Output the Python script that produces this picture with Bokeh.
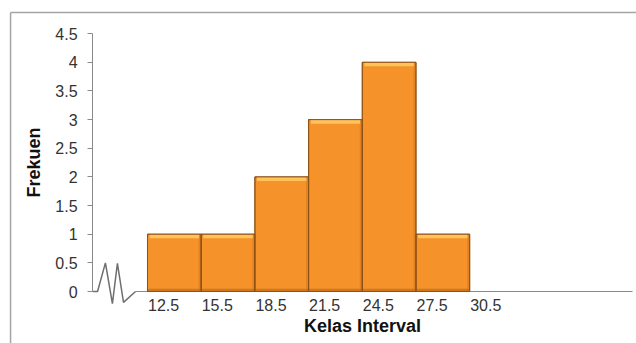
from bokeh.plotting import figure
from bokeh.models import ColumnDataSource, FixedTicker, Range1d
from bokeh.embed import file_html
from bokeh.resources import INLINE

# Class boundaries and frequencies
bin_edges = [12.5, 15.5, 18.5, 21.5, 24.5, 27.5, 30.5]
frequencies = [1, 1, 2, 3, 4, 1]
y_ticks = [0, 0.5, 1, 1.5, 2, 2.5, 3, 3.5, 4, 4.5]
y_tick_labels = ["0", "0.5", "1", "1.5", "2", "2.5", "3", "3.5", "4", "4.5"]

# Axis-break zigzag drawn between the y axis and the first class
break_x = [9.43, 9.71, 10.15, 10.54, 10.82, 11.16, 11.83]
break_y = [0.0, 0.0, 0.5, -0.21, 0.49, -0.19, 0.0]

FONT = "Liberation Sans"
Y_AXIS_X = 9.43          # where the value axis stands
AXIS_END = 39.6          # right end of the category axis line
BORDER_X, BORDER_Y = 4.85, 4.87
AXIS_GREY = "#8a8a8a"

lefts = bin_edges[:-1]
rights = bin_edges[1:]
src = ColumnDataSource(dict(
    left=lefts, right=rights, top=frequencies, bottom=[0] * len(frequencies),
    hl_left=[l + 0.12 for l in lefts], hl_right=[r - 0.12 for r in rights],
    hl_bottom=[t - 0.07 for t in frequencies],
    sh_left=[r - 0.14 for r in rights],
    bt_top=[0.05] * len(frequencies),
))

# The frame fills the whole canvas; the axes are pinned at fixed data positions
p = figure(width=636, height=343, output_backend="svg", toolbar_location=None,
           x_range=Range1d(4.288, 39.82), y_range=Range1d(-0.9075, 5.079),
           min_border_left=0, min_border_right=0, min_border_top=0,
           min_border_bottom=0)
p.background_fill_color = "white"
p.border_fill_color = "white"
p.outline_line_color = None
p.grid.visible = False

# Chart border (top and left edges)
p.line(x=[BORDER_X, 39.82], y=[BORDER_Y, BORDER_Y], line_color="#a5a5a5", line_width=1.5)
p.line(x=[BORDER_X, BORDER_X], y=[BORDER_Y, -0.9075], line_color="#a5a5a5", line_width=1.5)

# Category baseline, starting after the axis break
p.line(x=[break_x[-1], AXIS_END], y=[0, 0], line_color=AXIS_GREY, line_width=1)

# Bars with a simple bevel look
p.quad(left="left", right="right", bottom="bottom", top="top", source=src,
       fill_color="#F5922A", line_color="#9A5A1A", line_width=1)
p.quad(left="sh_left", right="right", bottom="bottom", top="top", source=src,
       fill_color="#D2761E", fill_alpha=0.55, line_color=None)
p.quad(left="left", right="right", bottom="bottom", top="bt_top", source=src,
       fill_color="#B8651A", fill_alpha=0.6, line_color=None)
p.quad(left="hl_left", right="hl_right", bottom="hl_bottom", top="top", source=src,
       fill_color="#FFC35C", line_color=None)
p.quad(left="left", right="right", bottom="bottom", top="top", source=src,
       fill_color=None, line_color="#8E5216", line_width=1)

# Axis break zigzag
p.line(x=break_x, y=break_y, line_color="#6f6f6f", line_width=1.5)

# Y axis
ya = p.yaxis[0]
ya.fixed_location = Y_AXIS_X
ya.bounds = (0, 4.5)
ya.ticker = FixedTicker(ticks=y_ticks)
ya.major_label_overrides = {t: s for t, s in zip(y_ticks, y_tick_labels)}
ya.axis_label = "Frekuen"
ya.axis_label_text_font = FONT
ya.axis_label_text_font_style = "bold"
ya.axis_label_text_font_size = "18px"
ya.axis_label_text_color = "#111111"
ya.axis_label_standoff = 8
ya.major_label_text_font = FONT
ya.major_label_text_font_size = "16px"
ya.major_label_text_color = "#333333"
ya.major_label_standoff = 10
ya.axis_line_color = AXIS_GREY
ya.major_tick_line_color = AXIS_GREY
ya.major_tick_out = 5
ya.major_tick_in = 0
ya.minor_tick_line_color = None

# X axis: labels sit just right of each class boundary; its own line is hidden
label_shift = 0.9
xa = p.xaxis[0]
xa.fixed_location = 0
x_tick_pos = [e + label_shift for e in bin_edges]
xa.ticker = FixedTicker(ticks=x_tick_pos)
xa.major_label_overrides = {t: str(e) for t, e in zip(x_tick_pos, bin_edges)}
xa.bounds = (Y_AXIS_X, AXIS_END)
xa.axis_label = "Kelas Interval"
xa.axis_label_text_font = FONT
xa.axis_label_text_font_style = "bold"
xa.axis_label_text_font_size = "18px"
xa.axis_label_text_color = "#111111"
xa.axis_label_standoff = 2
xa.major_label_text_font = FONT
xa.major_label_text_font_size = "16px"
xa.major_label_text_color = "#333333"
xa.major_label_standoff = 1
xa.axis_line_color = None
xa.major_tick_line_color = None
xa.minor_tick_line_color = None

open("out.html", "w").write(file_html(p, INLINE))
